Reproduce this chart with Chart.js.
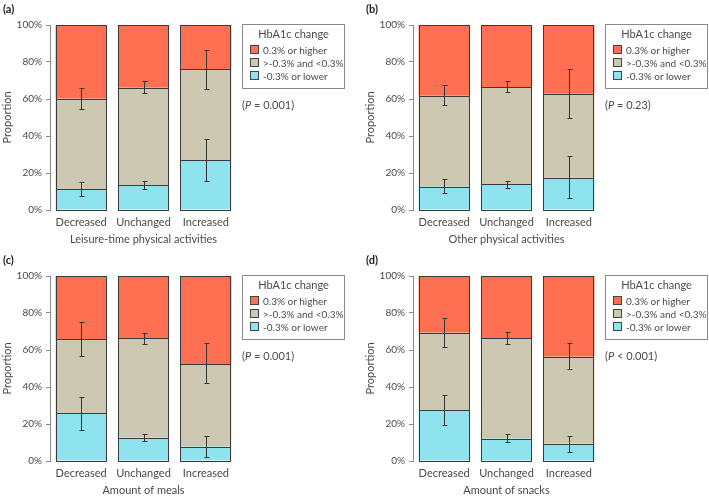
<!DOCTYPE html>
<html>
<head>
<meta charset="utf-8">
<script src="https://cdn.jsdelivr.net/npm/chart.js@4.4.1/dist/chart.umd.min.js"></script>
<style>
  html, body { margin: 0; padding: 0; background: #fff; }
  #wrap { position: relative; width: 709px; height: 497px; background: #fff; overflow: hidden; font-family: Lato, "Open Sans", sans-serif; color: #4a4a4a; }
  .panel { position: absolute; width: 346px; height: 246px; }
  .panel canvas { position: absolute; left: 0; top: 0; }
  .tag { position: absolute; left: 3px; top: 2px; font-weight: bold; font-size: 11px; color: #222; }
  .legend { position: absolute; left: 242px; top: 24px; width: 101px; height: 63px; border: 1px solid #8a8a8a; background: #fff; }
  .legend .ttl { position: absolute; left: 0; right: 0; top: 2px; text-align: center; font-size: 11px; line-height: 14px; }
  .legend .item { position: absolute; left: 7px; font-size: 10px; line-height: 13px; white-space: nowrap; }
  .legend .sw { display: inline-block; width: 7px; height: 7px; border: 1px solid #444; margin-right: 4px; vertical-align: 0px; }
  .pval { position: absolute; left: 242px; top: 98px; font-size: 11px; line-height: 14px; white-space: nowrap; }
</style>
</head>
<body>
<div id="wrap"></div>
<script>
// ---- data ----
const categories = ["Decreased", "Unchanged", "Increased"];
const seriesNames = ["-0.3% or lower", ">-0.3% and <0.3%", "0.3% or higher"];
const seriesColors = ["#8FE3EE", "#CDC8B2", "#FF7052"];
const yTicks = [0, 20, 40, 60, 80, 100];

const panelTags = ["(a)", "(b)", "(c)", "(d)"];
const xTitles = ["Leisure-time physical activities", "Other physical activities", "Amount of meals", "Amount of snacks"];
const pTexts = ["= 0.001", "= 0.23", "= 0.001", "< 0.001"];

// segment values (%) per panel: lower, middle, higher
const lowA = [11.2, 13.3, 27.0];
const midA = [49.0, 52.8, 49.0];
const highA = [39.8, 33.9, 24.0];
const lowB = [12.6, 13.9, 17.5];
const midB = [49.2, 52.6, 45.4];
const highB = [38.2, 33.5, 37.1];
const lowC = [25.7, 12.7, 7.8];
const midC = [40.0, 53.6, 44.7];
const highC = [34.3, 33.7, 47.5];
const lowD = [27.6, 12.1, 9.4];
const midD = [41.7, 54.2, 46.9];
const highD = [30.7, 33.7, 43.7];

// error bar bounds (cumulative %) at top of lower and middle segments
const errLowLoA = [7.4, 11.2, 15.9], errLowHiA = [15.0, 15.7, 38.4];
const errMidLoA = [54.4, 63.2, 65.6], errMidHiA = [65.8, 69.9, 86.3];
const errLowLoB = [9.4, 11.7, 6.3], errLowHiB = [16.6, 15.7, 29.0];
const errMidLoB = [56.6, 63.6, 49.9], errMidHiB = [67.6, 69.7, 76.4];
const errLowLoC = [17.0, 10.7, 2.4], errLowHiC = [34.5, 14.6, 13.7];
const errMidLoC = [56.5, 63.3, 42.4], errMidHiC = [74.9, 69.0, 63.6];
const errLowLoD = [19.3, 10.1, 5.1], errLowHiD = [35.7, 14.6, 13.7];
const errMidLoD = [61.7, 63.3, 49.5], errMidHiD = [77.1, 69.5, 63.6];

const panels = [
  { series: [lowA, midA, highA], err: [[errLowLoA, errLowHiA], [errMidLoA, errMidHiA]] },
  { series: [lowB, midB, highB], err: [[errLowLoB, errLowHiB], [errMidLoB, errMidHiB]] },
  { series: [lowC, midC, highC], err: [[errLowLoC, errLowHiC], [errMidLoC, errMidHiC]] },
  { series: [lowD, midD, highD], err: [[errLowLoD, errLowHiD], [errMidLoD, errMidHiD]] }
];
const panelPos = [[0, 0], [363, 0], [0, 251], [363, 251]];

// ---- crisp outlines + error bars plugin ----
const errorBars = {
  id: 'errorBars',
  afterDatasetsDraw(chart, args, opts) {
    const ctx = chart.ctx;
    const ys = chart.scales.y;
    ctx.save();
    ctx.strokeStyle = '#3a3a3a';
    ctx.lineWidth = 1;
    chart.data.datasets.forEach((ds, di) => {
      chart.getDatasetMeta(di).data.forEach(el => {
        const l = Math.round(el.x - el.width / 2) + 0.5;
        const r = Math.round(el.x + el.width / 2) - 0.5;
        const t = Math.round(el.y) + 0.5;
        const b = Math.round(el.base) + 0.5;
        ctx.strokeRect(l, t, r - l, b - t);
      });
    });
    ctx.strokeStyle = '#333';
    (opts.bars || []).forEach((b, di) => {
      const meta = chart.getDatasetMeta(di);
      meta.data.forEach((el, i) => {
        const x = Math.round(el.x) + 0.5;
        const y1 = Math.round(ys.getPixelForValue(b[0][i])) + 0.5;
        const y2 = Math.round(ys.getPixelForValue(b[1][i])) + 0.5;
        ctx.beginPath();
        ctx.moveTo(x, y1); ctx.lineTo(x, y2);
        ctx.moveTo(x - 2, y1); ctx.lineTo(x + 3, y1);
        ctx.moveTo(x - 2, y2); ctx.lineTo(x + 3, y2);
        ctx.stroke();
      });
    });
    ctx.restore();
  }
};

const FONT = 'Lato, "Open Sans", sans-serif';
const TXT = '#4a4a4a';
const wrap = document.getElementById('wrap');

panels.forEach((p, k) => {
  const div = document.createElement('div');
  div.className = 'panel';
  div.style.left = panelPos[k][0] + 'px';
  div.style.top = panelPos[k][1] + 'px';
  const cv = document.createElement('canvas');
  cv.width = 346; cv.height = 246;
  cv.style.width = '346px'; cv.style.height = '246px';
  div.appendChild(cv);

  const tag = document.createElement('div');
  tag.className = 'tag'; tag.textContent = panelTags[k];
  div.appendChild(tag);

  const lg = document.createElement('div');
  lg.className = 'legend';
  let html = '<div class="ttl">HbA1c change</div>';
  const tops = [19, 32, 45];
  [2, 1, 0].forEach((si, j) => {
    html += '<div class="item" style="top:' + tops[j] + 'px"><span class="sw" style="background:' + seriesColors[si] + '"></span>' +
      seriesNames[si].replace(/</g, '&lt;').replace(/>/g, '&gt;') + '</div>';
  });
  lg.innerHTML = html;
  div.appendChild(lg);

  const pv = document.createElement('div');
  pv.className = 'pval';
  pv.innerHTML = '(<i>P</i> ' + pTexts[k].replace(/</g, '&lt;') + ')';
  div.appendChild(pv);

  wrap.appendChild(div);

  new Chart(cv, {
    type: 'bar',
    data: {
      labels: categories,
      datasets: p.series.map((vals, si) => ({
        label: seriesNames[si],
        data: vals,
        backgroundColor: seriesColors[si],
        borderWidth: 0,
        categoryPercentage: 1.0,
        barPercentage: 0.82
      }))
    },
    options: {
      responsive: false,
      animation: false,
      devicePixelRatio: 1,
      layout: { padding: { left: 0, right: 109, top: 25, bottom: 0 } },
      plugins: {
        legend: { display: false },
        tooltip: { enabled: false },
        errorBars: { bars: p.err }
      },
      scales: {
        x: {
          stacked: true,
          grid: { display: false, drawTicks: false },
          border: { display: false },
          ticks: { font: { family: FONT, size: 11 }, color: TXT, padding: 6 },
          title: { display: true, text: xTitles[k], font: { family: FONT, size: 11 }, color: TXT, padding: { top: 0, bottom: 0 } },
          afterFit: s => { s.height = 36; }
        },
        y: {
          stacked: true,
          min: 0, max: 100,
          afterBuildTicks: s => { s.ticks = yTicks.map(v => ({ value: v })); },
          ticks: { callback: v => v + '%', font: { family: FONT, size: 10 }, color: TXT, padding: 4 },
          grid: { drawOnChartArea: false, drawTicks: true, tickLength: 4, color: '#8a8a8a' },
          border: { display: true, color: '#8a8a8a' },
          title: { display: true, text: 'Proportion', font: { family: FONT, size: 11 }, color: TXT, padding: { top: 1, bottom: 0 } },
          afterFit: s => { s.width = 50; }
        }
      }
    },
    plugins: [errorBars]
  });
});
</script>
</body>
</html>
